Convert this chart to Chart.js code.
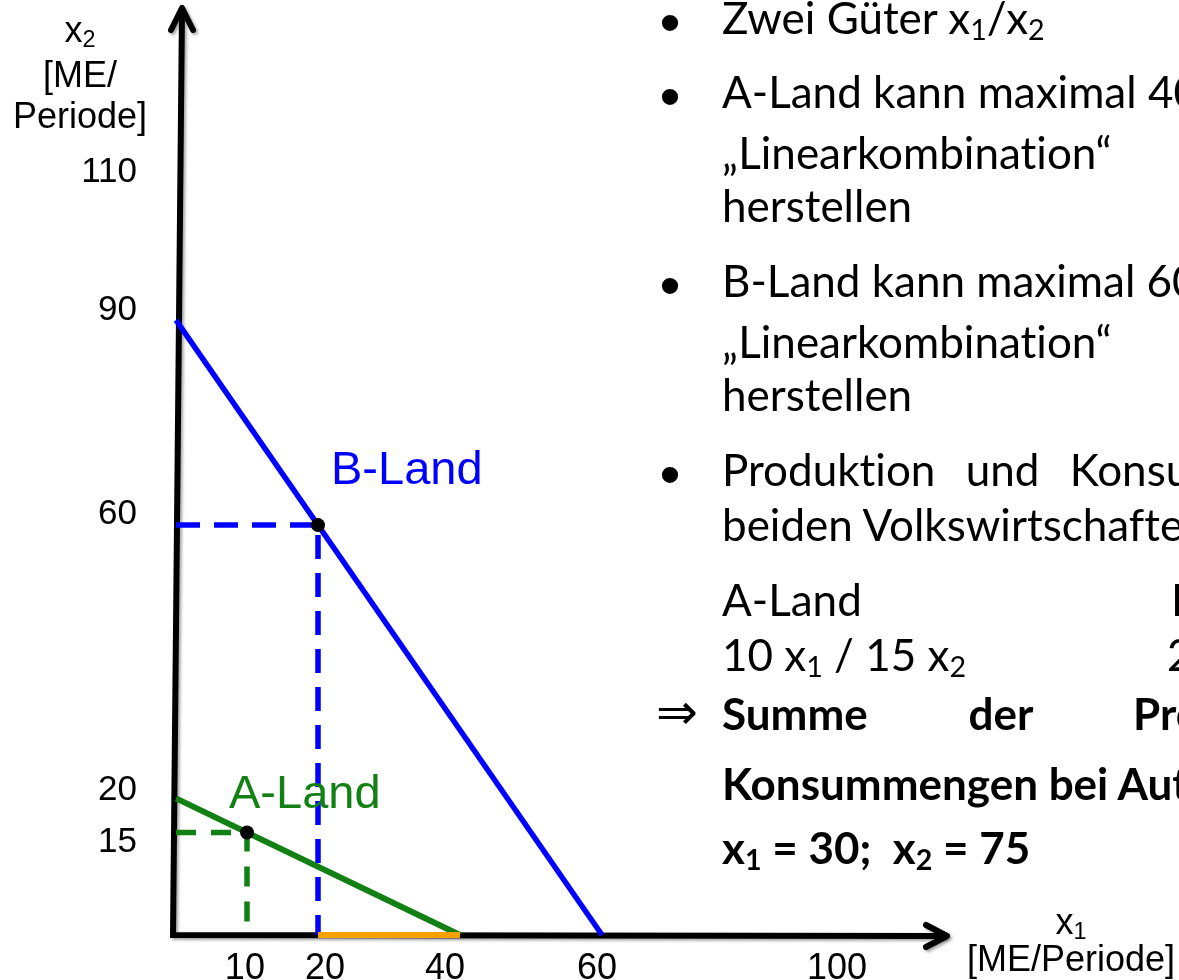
<!DOCTYPE html>
<html>
<head>
<meta charset="utf-8">
<script src="https://cdn.jsdelivr.net/npm/chart.js@4.4.1/dist/chart.umd.min.js"></script>
<style>
  html, body { margin:0; padding:0; background:#fff; }
  body { width:1179px; height:980px; overflow:hidden; position:relative; }
  #c { position:absolute; left:0; top:0; }
  .t { position:absolute; white-space:nowrap; font-family:Lato, "Open Sans", sans-serif; font-size:44px; line-height:42px; color:#000; font-variant-ligatures:none; font-feature-settings:"liga" 0, "clig" 0; }
  .b { font-weight:700; }
  .bul { position:absolute; width:40px; text-align:center; font-family:"Liberation Sans", Arial, sans-serif; font-size:60px; line-height:42px; color:#000; }
  .ax { position:absolute; white-space:nowrap; font-family:"Liberation Sans", Arial, sans-serif; font-size:36px; line-height:36px; color:#000; }
  .lbl { position:absolute; white-space:nowrap; font-family:"Liberation Sans", Arial, sans-serif; font-size:47px; line-height:47px; }
  .sub { font-size:0.65em; position:relative; top:0.22em; line-height:0; }
</style>
</head>
<body>
<canvas id="c" width="1179" height="980"></canvas>

<!-- axis titles -->
<div class="ax" style="left:0;top:12px;width:160px;text-align:center;">x<span class="sub">2</span></div>
<div class="ax" style="left:0;top:57px;width:160px;text-align:center;">[ME/</div>
<div class="ax" style="left:0;top:98px;width:160px;text-align:center;">Periode]</div>
<div class="ax" style="left:960px;top:904px;width:222px;text-align:center;">x<span class="sub">1</span></div>
<div class="ax" style="left:960px;top:941px;width:222px;text-align:center;">[ME/Periode]</div>

<!-- curve labels -->
<div class="lbl" style="left:331px;top:444px;color:#0000ff;">B-Land</div>
<div class="lbl" style="left:229px;top:768px;color:#128012;">A-Land</div>

<!-- right-hand text -->
<div class="bul" style="left:650px;top:2px;">•</div>
<div class="t" style="left:722px;top:-4px;">Zwei Güter x<span class="sub">1</span>/x<span class="sub">2</span></div>

<div class="bul" style="left:650px;top:76px;">•</div>
<div class="t" style="left:722px;top:70px;">A-Land kann maximal 40 x<span class="sub">1</span> oder 20 x<span class="sub">2</span> bzw. jede</div>
<div class="t" style="left:722px;top:131px;">„Linearkombination“</div>
<div class="t" style="left:722px;top:184px;">herstellen</div>

<div class="bul" style="left:650px;top:265px;">•</div>
<div class="t" style="left:722px;top:259px;">B-Land kann maximal 60 x<span class="sub">1</span> oder 90 x<span class="sub">2</span> bzw. jede</div>
<div class="t" style="left:722px;top:320px;">„Linearkombination“</div>
<div class="t" style="left:722px;top:373px;">herstellen</div>

<div class="bul" style="left:650px;top:454px;">•</div>
<div class="t" style="left:722px;top:448px;word-spacing:19px;">Produktion und Konsum der</div>
<div class="t" style="left:722px;top:503px;">beiden Volkswirtschaften:</div>

<div class="t" style="left:722px;top:578px;">A-Land</div>
<div class="t" style="left:1171px;top:578px;">B-Land</div>
<div class="t" style="left:722px;top:633px;">10 x<span class="sub">1</span> / 15 x<span class="sub">2</span></div>
<div class="t" style="left:1167px;top:633px;">20 x<span class="sub">1</span> / 60 x<span class="sub">2</span></div>

<div class="t" style="left:656px;top:688px;font-family:'DejaVu Sans',sans-serif;font-size:50px;line-height:48px;">⇒</div>
<div class="t b" style="left:722px;top:692px;word-spacing:90px;">Summe der Produktions- und</div>
<div class="t b" style="left:722px;top:762px;">Konsummengen bei Autarkie:</div>
<div class="t b" style="left:722px;top:826px;">x<span class="sub">1</span> = 30;&nbsp; x<span class="sub">2</span> = 75</div>

<script>
// ---- data ----
const bLandX = [0, 60];          // B-Land production possibility line
const bLandY = [90, 0];
const aLandX = [0, 40];          // A-Land production possibility line
const aLandY = [20, 0];
const bPoint = [20, 60];         // B-Land production/consumption point
const aPoint = [10, 15];         // A-Land production/consumption point
const orangeX = [20, 40];        // highlighted x1 segment on the axis
const orangeY = [0, 0];

// tick label positions (axis units, where the labels sit) and their texts
const xTickAt = [9.7, 21, 37.9, 59.3, 93.1];
const xTickLabels = ['10', '20', '40', '60', '100'];
const yTickAt = [13.5, 21.2, 61.5, 91.5, 111.6];
const yTickLabels = ['15', '20', '60', '90', '110'];

const X_MAX = 108.3;
const Y_MAX = 135.1;

const BLUE = '#0000ff';
const GREEN = '#128012';
const ORANGE = '#f7a100';

const pts = (xs, ys) => xs.map((x, i) => ({ x: x, y: ys[i] }));
const guide = (p) => [{ x: 0, y: p[1] }, { x: p[0], y: p[1] }, { x: p[0], y: 0 }];

const axesPlugin = {
  id: 'axesArrows',
  beforeDatasetsDraw(chart) {
    const ctx = chart.ctx;
    const xs = chart.scales.x, ys = chart.scales.y;
    const x0 = xs.getPixelForValue(0), y0 = ys.getPixelForValue(0);
    const xe = xs.getPixelForValue(xs.max), ye = ys.getPixelForValue(ys.max);
    ctx.save();
    ctx.strokeStyle = '#000';
    ctx.lineWidth = 6;
    ctx.shadowColor = 'rgba(0,0,0,0.35)';
    ctx.shadowBlur = 3;
    ctx.shadowOffsetX = 2;
    ctx.shadowOffsetY = 2;
    ctx.lineJoin = 'miter';
    ctx.lineCap = 'butt';
    ctx.beginPath();
    ctx.moveTo(x0 + 6, ye - 2);
    ctx.lineTo(x0 - 3, y0);
    ctx.lineTo(xe, y0 + 1);
    ctx.stroke();
    ctx.lineCap = 'round';
    ctx.lineJoin = 'round';
    // y arrow
    ctx.beginPath();
    ctx.moveTo(x0 + 6 - 11, ye + 18);
    ctx.lineTo(x0 + 6, ye - 4);
    ctx.lineTo(x0 + 6 + 11, ye + 18);
    ctx.stroke();
    // x arrow
    ctx.beginPath();
    ctx.moveTo(xe - 19, y0 + 1 - 11);
    ctx.lineTo(xe + 2, y0 + 1);
    ctx.lineTo(xe - 19, y0 + 1 + 11);
    ctx.stroke();
    ctx.restore();
  }
};

const lineDs = (data, color, width, dash, order) => ({
  data: data, showLine: true, borderColor: color, borderWidth: width,
  borderDash: dash, pointRadius: 0, pointHoverRadius: 0, fill: false,
  tension: 0, clip: false, order: order, borderCapStyle: 'butt'
});

const noPad = (s) => { s.paddingTop = 0; s.paddingBottom = 0; s.paddingLeft = 0; s.paddingRight = 0; };

new Chart(document.getElementById('c'), {
  type: 'scatter',
  data: {
    datasets: [
      { data: [ { x: bPoint[0], y: bPoint[1] }, { x: aPoint[0], y: aPoint[1] } ],
        pointRadius: 7, pointHoverRadius: 7, backgroundColor: '#000', borderWidth: 0,
        showLine: false, clip: false, order: 0 },
      lineDs(pts(orangeX, orangeY), ORANGE, 6, [], 1),
      lineDs(pts(bLandX, bLandY), BLUE, 5.5, [], 2),
      lineDs(pts(aLandX, aLandY), GREEN, 6, [], 2),
      lineDs(guide(bPoint), BLUE, 5.5, [24, 14], 3),
      lineDs(guide(aPoint), GREEN, 5.5, [20, 15], 3)
    ]
  },
  options: {
    responsive: false,
    animation: false,
    devicePixelRatio: 1,
    events: [],
    layout: { padding: { top: 12, right: 234, bottom: 0, left: 0 } },
    plugins: { legend: { display: false }, tooltip: { enabled: false } },
    scales: {
      x: {
        type: 'linear', position: 'bottom', min: 0, max: X_MAX,
        grid: { display: false, drawTicks: false }, border: { display: false },
        afterBuildTicks: (s) => { s.ticks = xTickAt.map(v => ({ value: v })); },
        afterFit: (s) => { s.height = 45; noPad(s); },
        ticks: {
          autoSkip: false, maxRotation: 0, minRotation: 0, padding: 12, color: '#000',
          font: { family: 'Liberation Sans', size: 36 },
          callback: (v, i) => xTickLabels[i]
        }
      },
      y: {
        type: 'linear', position: 'left', min: 0, max: Y_MAX,
        grid: { display: false, drawTicks: false }, border: { display: false },
        afterBuildTicks: (s) => { s.ticks = yTickAt.map(v => ({ value: v })); },
        afterFit: (s) => { s.width = 176; noPad(s); },
        ticks: {
          autoSkip: false, padding: 39, color: '#000',
          font: { family: 'Liberation Sans', size: 35 },
          callback: (v, i) => yTickLabels[i]
        }
      }
    }
  },
  plugins: [axesPlugin]
});
</script>
</body>
</html>
